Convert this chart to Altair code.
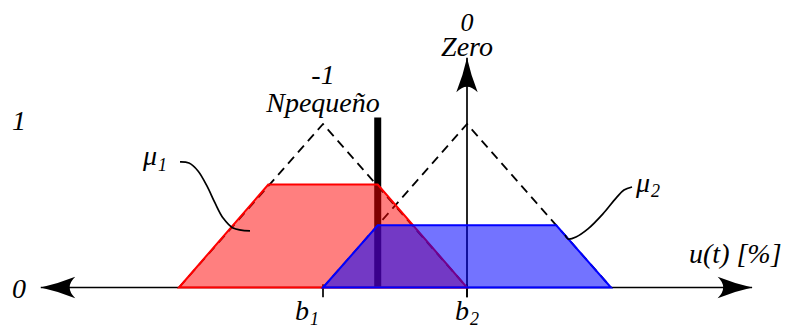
import altair as alt
import pandas as pd

# ---------------- data (u in units: Npequeño = -1, Zero = 0) ----------------
npeq_u = [-2.0, -1.0, 0.0]
npeq_mu = [0.0, 1.0, 0.0]
zero_u = [-1.0, 0.0, 1.0]
zero_mu = [0.0, 1.0, 0.0]

u_input = -0.62          # crisp input (thick black bar)
bar_top = 1.04

red_u = [-2.0, -1.38, -0.62, 0.0]      # clipped Npequeño (mu1)
red_mu = [0.0, 0.63, 0.63, 0.0]
blue_u = [-1.0, -0.62, 0.62, 1.0]      # clipped Zero (mu2)
blue_mu = [0.0, 0.38, 0.38, 0.0]

axis_u = [-2.96, 1.98]
axis_mu_top = 1.405
axis_mu_bottom = -0.06
tick_u = [-1.0, 0.0]

leader1_u = [-1.993, -1.931, -1.868, -1.806, -1.750, -1.694, -1.625, -1.507]
leader1_mu = [0.768, 0.761, 0.713, 0.621, 0.517, 0.425, 0.364, 0.346]
leader2_u = [1.146, 1.090, 1.035, 0.944, 0.840, 0.757, 0.701, 0.681]
leader2_mu = [0.615, 0.596, 0.547, 0.450, 0.358, 0.309, 0.297, 0.321]

label_text = ["-1", "Npequeño", "0", "Zero", "1", "0", "u(t) [%]",
              "μ", "1", "μ", "2", "b", "1", "b", "2"]
label_u = [-1.0, -1.0, 0.0, 0.0, -3.111, -3.111, 1.542,
           -2.25, -2.146, 1.174, 1.278, -1.194, -1.090, -0.083, 0.021]
label_mu = [1.245, 1.073, 1.569, 1.416, 0.963, -0.064, 0.150,
            0.749, 0.713, 0.584, 0.554, -0.200, -0.232, -0.200, -0.232]
label_kind = ["c", "c", "c", "c", "c", "c", "l",
              "l", "s", "l", "s", "l", "s", "l", "s"]
label_size = [28, 28, 26, 28, 28, 28, 28, 28, 18, 28, 18, 28, 18, 28, 18]

# ---------------- scales ----------------
W, H = 773, 322
PX_U, PX_MU = 144.0, 163.5
x0_px, y0_px = 459.0, 279.5
xs = alt.Scale(domain=[-x0_px / PX_U, (W - x0_px) / PX_U], nice=False, zero=False)
ys = alt.Scale(domain=[(y0_px - H) / PX_MU, y0_px / PX_MU], nice=False, zero=False)


def X(f="u"):
    return alt.X(f"{f}:Q", scale=xs, axis=None)


def Y(f="mu"):
    return alt.Y(f"{f}:Q", scale=ys, axis=None)


FONT = "Liberation Serif"

# axes
xaxis = alt.Chart(pd.DataFrame({"u": [axis_u[0]], "u2": [axis_u[1]], "mu": [0.0]})).mark_rule(
    color="black", strokeWidth=1.7).encode(x=X(), x2="u2:Q", y=Y())
yaxis = alt.Chart(pd.DataFrame({"u": [0.0], "mu": [axis_mu_bottom], "mu2": [axis_mu_top]})).mark_rule(
    color="black", strokeWidth=1.7).encode(x=X(), y=Y(), y2="mu2:Q")
ticks = alt.Chart(pd.DataFrame({"u": tick_u, "mu": [0.02, 0.02], "mu2": [axis_mu_bottom] * 2})).mark_rule(
    color="black", strokeWidth=1.7).encode(x=X(), y=Y(), y2="mu2:Q")

ARROW = "M0,0 Q-1,-0.22 -2,-0.62 Q-1.35,0 -2,0.62 Q-1,0.22 0,0 Z"
arrows = alt.Chart(pd.DataFrame({"u": [axis_u[0], axis_u[1], 0.0],
                                 "mu": [0.0, 0.0, axis_mu_top],
                                 "ang": [180, 0, 270]})).mark_point(
    shape=ARROW, filled=True, color="black", opacity=1, size=1190).encode(
    x=X(), y=Y(), angle=alt.Angle("ang:Q", scale=None))

# dashed reference triangles
tri = pd.DataFrame({"u": npeq_u + zero_u, "mu": npeq_mu + zero_mu,
                    "set": ["N"] * 3 + ["Z"] * 3, "o": [0, 1, 2] * 2})
dashed = alt.Chart(tri).mark_line(color="black", strokeWidth=1.8, strokeDash=[9, 6]).encode(
    x=X(), y=Y(), detail="set:N", order="o:Q")

# crisp input bar
bar = alt.Chart(pd.DataFrame({"u": [u_input], "mu": [0.0], "mu2": [bar_top]})).mark_rule(
    color="black", strokeWidth=7, strokeCap="butt").encode(x=X(), y=Y(), y2="mu2:Q")

red = alt.Chart(pd.DataFrame({"u": red_u, "mu": red_mu})).mark_area(
    color="#ff0000", fillOpacity=0.5, stroke="#ff0000", strokeWidth=2, strokeJoin="miter").encode(
    x=X(), y=Y())
blue = alt.Chart(pd.DataFrame({"u": blue_u, "mu": blue_mu})).mark_area(
    color="#0000ff", fillOpacity=0.55, stroke="#0000ff", strokeWidth=2, strokeJoin="miter").encode(
    x=X(), y=Y())

lead = pd.DataFrame({"u": leader1_u + leader2_u, "mu": leader1_mu + leader2_mu,
                     "k": ["a"] * len(leader1_u) + ["b"] * len(leader2_u),
                     "o": list(range(len(leader1_u))) + list(range(len(leader2_u)))})
leaders = alt.Chart(lead).mark_line(color="black", strokeWidth=1.7, interpolate="catmull-rom").encode(
    x=X(), y=Y(), detail="k:N", order="o:Q")

lab = pd.DataFrame({"t": label_text, "u": label_u, "mu": label_mu, "k": label_kind,
                    "sz": label_size})
txt_c = alt.Chart(lab[lab.k == "c"]).mark_text(
    font=FONT, fontStyle="italic", align="center", baseline="alphabetic",
    color="black").encode(x=X(), y=Y(), text="t:N", size=alt.Size("sz:Q", scale=None))
txt_l = alt.Chart(lab[lab.k != "c"]).mark_text(
    font=FONT, fontStyle="italic", align="left", baseline="alphabetic",
    color="black").encode(x=X(), y=Y(), text="t:N", size=alt.Size("sz:Q", scale=None))

chart = alt.layer(xaxis, yaxis, ticks, arrows, dashed, bar, red, blue, leaders,
                  txt_c, txt_l).properties(
    width=W, height=H, padding=0, background="white",
    autosize=alt.AutoSizeParams(type="none"),
).configure_view(stroke=None)

chart.save("out.html", embed_options={"renderer": "svg", "actions": False})
